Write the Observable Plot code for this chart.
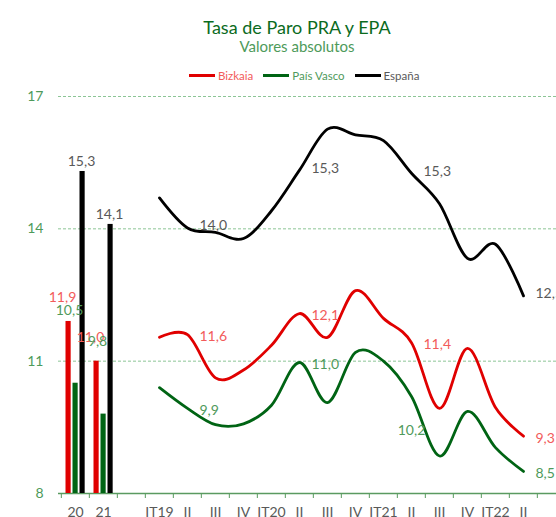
<!DOCTYPE html>
<html>
<head>
<meta charset="utf-8">
<script src="https://cdn.jsdelivr.net/npm/d3@7"></script>
<script src="https://cdn.jsdelivr.net/npm/@observablehq/plot@0.6"></script>
<style>
  body { margin: 0; background: #fff; font-family: Lato, "Open Sans", sans-serif; }
  #wrap { width: 556px; height: 517px; position: relative; overflow: hidden; }
  #head { height: 80px; position: relative; }
  .title { position: absolute; left: 297px; top: 16px; transform: translateX(-50%); white-space: nowrap; font-size: 18px; color: #0b6b1e; }
  .subtitle { position: absolute; left: 297px; top: 37px; transform: translateX(-50%); white-space: nowrap; font-size: 15px; color: #4e9a5a; }
  .legend { position: absolute; left: 189px; top: 69px; display: flex; align-items: center; font-size: 11.5px; white-space: nowrap; }
  .item { display: flex; align-items: center; margin-right: 10px; }
  .sw { width: 26px; height: 3px; margin-right: 3px; }
  #chart svg { display: block; }
</style>
</head>
<body>
<div id="wrap">
  <div id="head">
    <div class="title">Tasa de Paro PRA y EPA</div>
    <div class="subtitle">Valores absolutos</div>
    <div class="legend" id="legend"></div>
  </div>
  <div id="chart"></div>
</div>
<script>
// ---- data ----
const seriesNames = ["Bizkaia", "País Vasco", "España"];

const barKeys = ["2020", "2021"];
const barLabels = ["20", "21"];
const barBizkaia = [11.9, 11.0];
const barEuskadi = [10.5, 9.8];
const barEspana = [15.3, 14.1];

const quarterKeys = ["2019T1","2019T2","2019T3","2019T4","2020T1","2020T2","2020T3","2020T4","2021T1","2021T2","2021T3","2021T4","2022T1","2022T2"];
const quarterLabels = ["IT19","II","III","IV","IT20","II","III","IV","IT21","II","III","IV","IT22","II"];
const lineBizkaia = [11.54, 11.6, 10.62, 10.8, 11.36, 12.08, 11.54, 12.6, 11.97, 11.42, 9.93, 11.29, 9.95, 9.3];
const lineEuskadi = [10.4, 9.93, 9.56, 9.58, 10.0, 10.97, 10.06, 11.2, 11.0, 10.2, 8.85, 9.86, 9.04, 8.5];
const lineEspana = [14.7, 14.02, 13.92, 13.78, 14.41, 15.33, 16.26, 16.13, 16.0, 15.26, 14.57, 13.33, 13.65, 12.48];
const labeledQuarters = [1, 5, 9, 13];

const yTicks = [8, 11, 14, 17];

// ---- styles ----
const colors = ["#e00000", "#006414", "#000000"];
const labelColors = ["#f25b5b", "#4f9a5b", "#595959"];

// legend
const legend = document.getElementById("legend");
seriesNames.forEach((n, i) => {
  const it = document.createElement("div");
  it.className = "item";
  it.innerHTML = `<div class="sw" style="background:${colors[i]}"></div><span style="color:${labelColors[i]}">${n}</span>`;
  legend.appendChild(it);
});

// ---- tables ----
const allKeys = [...barKeys, "gap", ...quarterKeys, "end"];
const labelMap = new Map([
  ...barKeys.map((k, i) => [k, barLabels[i]]),
  ["gap", ""],
  ...quarterKeys.map((k, i) => [k, quarterLabels[i]]),
  ["end", ""]
]);
const bars = barKeys.map((k, i) => ({key: k, biz: barBizkaia[i], eus: barEuskadi[i], esp: barEspana[i]}));
const lines = quarterKeys.map((k, i) => ({key: k, i, biz: lineBizkaia[i], eus: lineEuskadi[i], esp: lineEspana[i]}));

const fmt = v => v.toFixed(1).replace(".", ",");
const xRange = [58, 568];
const step = (xRange[1] - xRange[0]) / allKeys.length;
const isLab = d => labeledQuarters.includes(d.i);

const chart = Plot.plot({
  width: 556,
  height: 437,
  marginTop: 16,
  marginBottom: 24,
  marginLeft: 58,
  marginRight: 0,
  style: {fontFamily: "Lato, sans-serif", fontSize: "14px", background: "transparent"},
  x: {type: "band", domain: allKeys, range: xRange, padding: 0},
  y: {domain: [8, 17]},
  marks: [
    Plot.gridY(yTicks.slice(1), {stroke: "#8cc596", strokeOpacity: 1, strokeDasharray: "3,2"}),
    Plot.axisY(yTicks, {tickSize: 0, tickPadding: 15, fill: "#4e9a5a", fontSize: 14, label: null}),
    Plot.ruleY([8], {stroke: "#5a9a60", strokeWidth: 1.5}),
    Plot.ruleX(allKeys, {x: d => d, y1: 8, y2: 8, insetBottom: -5, dx: -step / 2, stroke: "#5a9a60"}),
    Plot.axisX({tickSize: 0, tickPadding: 14, tickFormat: k => labelMap.get(k), fill: "#595959", fontSize: 14, label: null}),
    // bars
    Plot.barY(bars, {x: "key", y1: 8, y2: "biz", fill: colors[0], insetLeft: 4.5, insetRight: step - 10}),
    Plot.barY(bars, {x: "key", y1: 8, y2: "eus", fill: colors[1], insetLeft: 11.5, insetRight: step - 17}),
    Plot.barY(bars, {x: "key", y1: 8, y2: "esp", fill: colors[2], insetLeft: 18.5, insetRight: step - 24}),
    Plot.text(bars, {x: "key", y: "biz", text: d => fmt(d.biz), dx: -13, dy: -24, fill: labelColors[0], fontSize: 14}),
    Plot.text(bars, {x: "key", y: "eus", text: d => fmt(d.eus), dx: -6, dy: -73, fill: labelColors[1], fontSize: 14}),
    Plot.text(bars, {x: "key", y: "esp", text: d => fmt(d.esp), dx: 6, dy: -10, fill: labelColors[2], fontSize: 14}),
    // lines
    Plot.line(lines, {x: "key", y: "biz", curve: "cardinal", stroke: colors[0], strokeWidth: 2.8}),
    Plot.line(lines, {x: "key", y: "eus", curve: "cardinal", stroke: colors[1], strokeWidth: 2.8}),
    Plot.line(lines, {x: "key", y: "esp", curve: "cardinal", stroke: colors[2], strokeWidth: 2.8}),
    Plot.text(lines, {filter: isLab, x: "key", y: "esp", text: d => fmt(d.esp), textAnchor: "start", dx: 12, dy: -2, fill: labelColors[2], fontSize: 14}),
    Plot.text(lines, {filter: isLab, x: "key", y: "biz", text: d => fmt(d.biz), textAnchor: "start", dx: 12, dy: 2, fill: labelColors[0], fontSize: 14}),
    Plot.text(lines, {filter: d => isLab(d) && d.i !== 9, x: "key", y: "eus", text: d => fmt(d.eus), textAnchor: "start", dx: 12, dy: 2, fill: labelColors[1], fontSize: 14}),
    Plot.text(lines, {filter: d => d.i === 9, x: "key", y: "eus", text: d => fmt(d.eus), dy: 34, fill: labelColors[1], fontSize: 14})
  ]
});
document.getElementById("chart").appendChild(chart);
</script>
</body>
</html>
